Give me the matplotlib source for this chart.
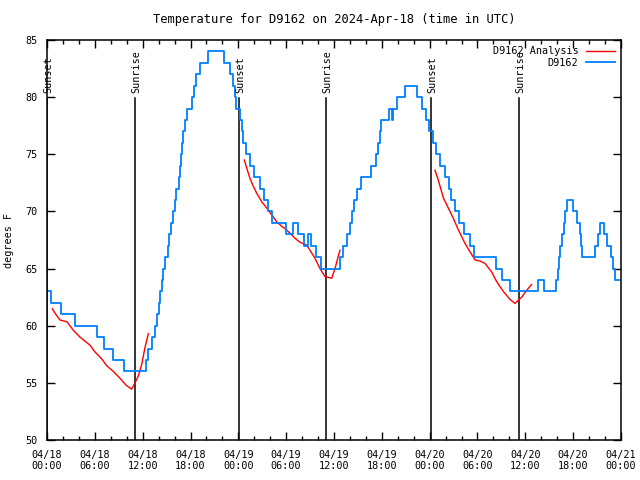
import matplotlib
matplotlib.use("Agg")
import matplotlib.pyplot as plt
from matplotlib.ticker import MultipleLocator

# hours since 04/18 00:00 UTC
obs_hours = [0.1, 0.5, 1.75, 3.5, 6.25, 7.2, 8.3, 9.6, 12.4, 12.73, 13.17, 13.55, 13.76, 13.99,
             14.17, 14.39, 14.61, 14.86, 15.12, 15.3, 15.55, 15.8, 16.06, 16.24, 16.5, 16.68,
             16.81, 16.93, 17.1, 17.31, 17.62, 18.19, 18.44, 18.69, 19.19, 20.2, 22.2, 22.45,
             22.9, 23.27, 23.52, 23.77, 24.15, 24.42, 24.62, 24.96, 25.46, 26.0, 26.72, 27.26,
             27.76, 28.26, 30.04, 30.8, 31.49, 32.24, 32.7, 33.12, 33.74, 34.43, 36.75, 37.07,
             37.57, 37.95, 38.32, 38.57, 38.89, 39.33, 40.58, 41.27, 41.52, 41.71, 41.9, 42.84,
             43.28, 43.46, 43.9, 44.91, 46.35, 47.04, 47.54, 47.92, 48.36, 48.8, 49.3, 49.92,
             50.43, 50.68, 51.18, 51.62, 52.31, 53.06, 53.56, 56.32, 57.07, 58.08, 61.65, 62.34,
             63.85, 64.04, 64.22, 64.41, 64.66, 64.85, 64.98, 65.23, 66.04, 66.48, 66.8, 66.99,
             67.17, 68.68, 69.12, 69.37, 69.81, 70.25, 70.75, 71.0, 71.31, 71.75]
obs_temp = [63, 62, 61, 60, 59, 58, 57, 56, 57, 58, 59, 60, 61, 62,
            63, 64, 65, 66, 67, 68, 69, 70, 71, 72, 73, 74,
            75, 76, 77, 78, 79, 80, 81, 82, 83, 84, 83, 83,
            82, 81, 80, 79, 78, 77, 76, 75, 74, 73, 72, 71,
            70, 69, 68, 69, 68, 67, 68, 67, 66, 65, 66, 67,
            68, 69, 70, 71, 72, 73, 74, 75, 76, 77, 78, 79,
            78, 79, 80, 81, 80, 79, 78, 77, 76, 75, 74, 73,
            72, 71, 70, 69, 68, 67, 66, 65, 64, 63, 64, 63,
            64, 65, 66, 67, 68, 69, 70, 71, 70, 69, 68, 67,
            66, 67, 68, 69, 68, 67, 66, 65, 64, 64]

an1_hours = [0.66, 1.0, 1.63, 2.47, 2.67, 3.3, 4.14, 5.39, 6.02, 6.86, 7.49, 8.32, 9.16, 9.91,
             10.62, 11.04, 11.45, 11.88, 12.29, 12.71]
an1_temp = [61.5, 61.1, 60.5, 60.35, 60.2, 59.6, 59.0, 58.3, 57.7, 57.1, 56.5, 56.0, 55.4, 54.8,
            54.45, 55.0, 55.6, 56.6, 58.1, 59.3]
an2_hours = [24.75, 25.05, 25.46, 25.88, 26.3, 26.93, 27.56, 28.19, 28.81, 29.44, 29.85, 30.48,
             31.11, 31.74, 32.58, 32.99, 33.62, 34.24, 34.87, 35.71, 36.13, 36.5, 36.75]
an2_temp = [74.5, 73.8, 72.9, 72.2, 71.6, 70.85, 70.3, 69.7, 69.1, 68.7, 68.5, 68.1,
            67.65, 67.3, 67.05, 66.6, 65.9, 65.0, 64.3, 64.15, 65.0, 66.0, 66.6]
an3_hours = [48.67, 49.08, 49.71, 50.34, 50.97, 51.59, 52.43, 53.69, 54.32, 54.94, 55.78, 56.41,
             57.24, 58.08, 58.7, 59.55, 60.17, 60.77]
an3_temp = [73.6, 72.75, 71.2, 70.3, 69.4, 68.4, 67.2, 65.75, 65.66, 65.45, 64.7, 63.85,
            63.0, 62.3, 61.95, 62.5, 63.1, 63.6]

sun_hours = [0.05, 11.08, 24.12, 35.0, 48.2, 59.17]
sun_names = ["Sunset", "Sunrise", "Sunset", "Sunrise", "Sunset", "Sunrise"]

tick_hours = [0, 6, 12, 18, 24, 30, 36, 42, 48, 54, 60, 66, 72]
tick_labels = ["04/18\n00:00", "04/18\n06:00", "04/18\n12:00", "04/18\n18:00",
               "04/19\n00:00", "04/19\n06:00", "04/19\n12:00", "04/19\n18:00",
               "04/20\n00:00", "04/20\n06:00", "04/20\n12:00", "04/20\n18:00",
               "04/21\n00:00"]

plt.rcParams["font.family"] = "DejaVu Sans Mono"
plt.rcParams["font.size"] = 7.3

fig = plt.figure(figsize=(6.4, 4.8), dpi=100)
ax = fig.add_axes([47 / 640, 40 / 480, 574 / 640, 400 / 480])

for h, name in zip(sun_hours, sun_names):
    ax.plot([h, h], [50, 79.9], color="black", lw=1.1)
    ax.text(h + 0.15, 80.4, name, rotation=90, ha="center", va="bottom")

red = "#ff0000"
blue = "#0080ff"
ax.plot(an1_hours, an1_temp, color=red, lw=1.0, label="D9162 Analysis")
ax.plot(an2_hours, an2_temp, color=red, lw=1.0)
ax.plot(an3_hours, an3_temp, color=red, lw=1.0)
ax.plot(obs_hours, obs_temp, color=blue, lw=1.3, drawstyle="steps-post", label="D9162")

ax.set_xlim(0, 72)
ax.set_ylim(50, 85)
ax.set_xticks(tick_hours)
ax.set_xticklabels(tick_labels)
ax.xaxis.set_minor_locator(MultipleLocator(2))
ax.set_yticks(range(50, 90, 5))
ax.tick_params(which="both", direction="in", top=True, right=True, width=1)
ax.tick_params(which="major", length=6, pad=7)
ax.tick_params(which="minor", length=3)
for s in ax.spines.values():
    s.set_linewidth(1.1)

ax.set_ylabel("degrees F", labelpad=8)
ax.set_title("Temperature for D9162 on 2024-Apr-18 (time in UTC)", pad=12)
ax.legend(loc="upper right", frameon=False, markerfirst=False, handlelength=2.9,
          borderaxespad=0.2, labelspacing=0.15, handletextpad=0.7)

fig.savefig("out.png", dpi=100)
